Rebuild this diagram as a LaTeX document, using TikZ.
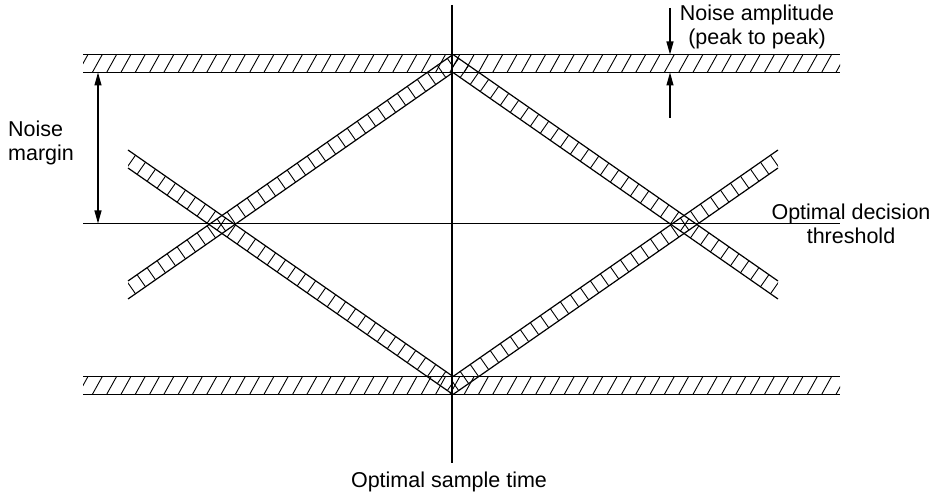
\documentclass[tikz,border=0pt]{standalone}
\usepackage{fontspec}
\setmainfont{Liberation Sans}
\usetikzlibrary{arrows.meta}
\tikzset{
  edge/.style={line width=1.2pt, black},
  hatchline/.style={line width=0.9pt, black},
  dimarrow/.style={line width=1.1pt, black, -{Triangle[length=13pt,width=7pt]}},
  lbl/.style={inner sep=0pt, font=\fontsize{21.5}{24}\selectfont}
}
\newcommand{\eyeribbon}[4]{%
  \pgfmathsetmacro\ribang{atan2(-(#4-#2),#3-#1)}%
  \begin{scope}
    \clip (#1,#2-9) -- (#3,#4-9) -- (#3,#4+9) -- (#1,#2+9) -- cycle;
    \begin{scope}[shift={(#1,#2)}, rotate=\ribang]
      \foreach \s in {4,16.2,...,400} \draw[hatchline] (\s,-12) -- (\s,12);
    \end{scope}
  \end{scope}
  \draw[edge] (#1,#2-9) -- (#3,#4-9) (#1,#2+9) -- (#3,#4+9);
}
\newcommand{\hatchband}[2]{%
  \begin{scope}
    \clip (83,#1) rectangle (840,#2);
    \foreach \x in {78,92.3,...,850} \draw[hatchline] (\x-1,#2+1.8) -- (\x+11,#1-1.8);
  \end{scope}
  \draw[edge] (83,#1) -- (840,#1) (83,#2) -- (840,#2);
}
\begin{document}
\begin{tikzpicture}[x=1pt,y=-1pt]
  \useasboundingbox (0,0) rectangle (938,494);
  % bands
  \hatchband{54.5}{72.5}
  \hatchband{376.5}{394.5}
  % eye ribbons
  \eyeribbon{128}{290}{453}{63.5}
  \eyeribbon{128}{159}{453}{385.5}
  \eyeribbon{778}{290}{453}{63.5}
  \eyeribbon{778}{159}{453}{385.5}
  % axes
  \coordinate (vtop) at (452,5);
  \coordinate (vbot) at (452,463);
  \coordinate (thl) at (83,223.5);
  \coordinate (thr) at (840,223.5);
  \draw[edge] (vtop) -- (vbot);
  \draw[edge] (thl) -- (thr);
  % noise margin arrow
  \coordinate (nmt) at (98,72.5);
  \coordinate (nmb) at (98,223.5);
  \draw[dimarrow, {Triangle[length=13pt,width=7pt]}-{Triangle[length=13pt,width=7pt]}] (nmt) -- (nmb);
  % noise amplitude arrows
  \coordinate (nat0) at (670,8);
  \coordinate (nat1) at (670,54.5);
  \coordinate (nab0) at (670,118);
  \coordinate (nab1) at (670,72.5);
  \draw[dimarrow] (nat0) -- (nat1);
  \draw[dimarrow] (nab0) -- (nab1);
  % labels
  \node[lbl, anchor=north, align=center] (namp) at (757,5) {Noise amplitude\\(peak to peak)};
  \node[lbl, anchor=north west, align=left] (nmar) at (8,121) {Noise\\margin};
  \node[lbl, anchor=north, align=center] (odt) at (851,204) {Optimal decision\\threshold};
  \node[lbl, anchor=north] (ost) at (449,472) {Optimal sample time};
\end{tikzpicture}
\end{document}
